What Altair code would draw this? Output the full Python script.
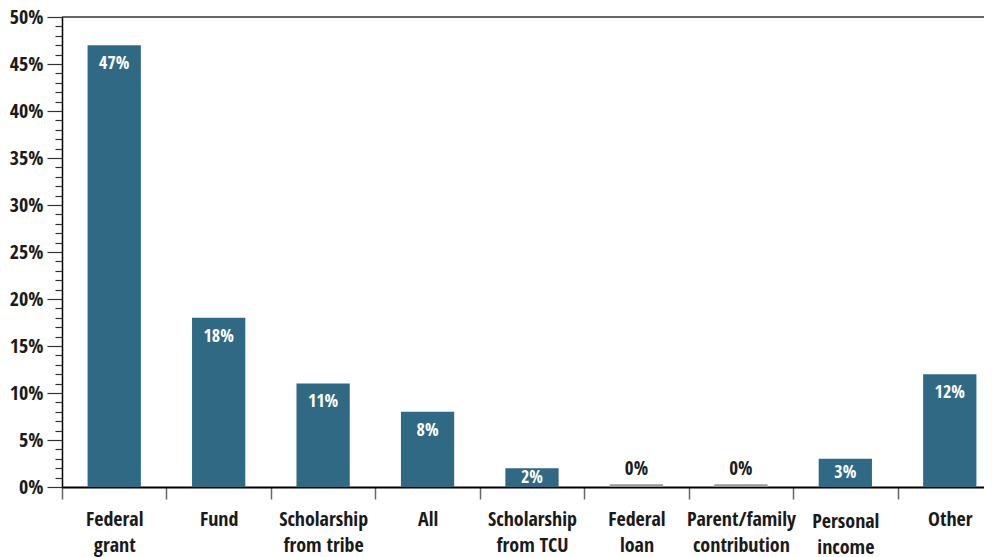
import altair as alt
import pandas as pd

categories = ["Federal grant", "Fund", "Scholarship from tribe", "All", "Scholarship from TCU",
              "Federal loan", "Parent/family contribution", "Personal income", "Other"]
label_lines = [["Federal", "grant"], ["Fund"], ["Scholarship", "from tribe"], ["All"],
               ["Scholarship", "from TCU"], ["Federal", "loan"], ["Parent/family", "contribution"],
               ["Personal", "income"], ["Other"]]
values = [47, 18, 11, 8, 2, 0, 0, 3, 12]
y_ticks = list(range(0, 51))

df = pd.DataFrame({"cat": categories, "v": values})
FONT = "Open Sans Condensed"
BAR = "#306984"
TXT = "#1a1a1a"
PLOT_W = 940

label_expr = "{" + ",".join(
    '"' + c + '": [' + ",".join('"' + s + '"' for s in l) + "]" for c, l in zip(categories, label_lines)
) + "}[datum.value]"

xenc = alt.X("cat:N", sort=categories, title=None,
             scale=alt.Scale(paddingInner=0, paddingOuter=0, range=[0, PLOT_W]),
             axis=alt.Axis(labelAngle=0, labelExpr=label_expr, labelFont=FONT, labelFontSize=20,
                           labelFontWeight="bold", labelColor=TXT, labelLineHeight=26,
                           labelPadding=alt.ExprRef("datum.value == 'Personal income' ? 12 : 10"),
                           tickBand="extent", tickSize=12, tickColor="#666666",
                           tickWidth=1.5, domainColor="#000000", domainWidth=2))
yscale = alt.Scale(domain=[0, 50], nice=False)

bars = alt.Chart(df).mark_bar(color=BAR, width=alt.RelativeBandSize(0.51)).encode(
    x=xenc,
    y=alt.Y("v:Q", scale=yscale, title=None,
            axis=alt.Axis(values=y_ticks, tickCount=len(y_ticks),
                          labelExpr="datum.value % 5 == 0 ? datum.value + '%' : ''",
                          labelOverlap=False, labelFlush=False, labelBound=False,
                          tickSize=alt.ExprRef("datum.value % 5 == 0 ? 15 : 7"),
                          labelFont=FONT, labelFontSize=20, labelFontWeight="bold",
                          labelColor=TXT, labelPadding=4, tickColor="#333333", tickWidth=1.2,
                          domainColor="#000000", domainWidth=1.5, grid=False)),
)

inside = alt.Chart(df).transform_filter("datum.v > 0").transform_calculate(
    lp="max(datum.v - 2, datum.v / 2)", txt="datum.v + '%'"
).mark_text(color="white", font=FONT, fontSize=18, fontWeight="bold", baseline="middle").encode(
    x=alt.X("cat:N", sort=categories), y=alt.Y("lp:Q", scale=yscale), text="txt:N")

zero_bar = alt.Chart(df).transform_filter("datum.v == 0").mark_bar(
    color="#999999", width=alt.RelativeBandSize(0.51)).encode(
    x=alt.X("cat:N", sort=categories), y=alt.Y("v:Q", scale=yscale), y2=alt.datum(0.3))

above = alt.Chart(df).transform_filter("datum.v == 0").transform_calculate(
    txt="datum.v + '%'"
).mark_text(color=TXT, font=FONT, fontSize=19, fontWeight="bold", baseline="bottom", dy=-8).encode(
    x=alt.X("cat:N", sort=categories), y=alt.Y("v:Q", scale=yscale), text="txt:N")

top = alt.Chart(pd.DataFrame({"t": [50]})).mark_rule(color="#333333", strokeWidth=1.5).encode(
    y=alt.Y("t:Q", scale=yscale), x=alt.value(0), x2=alt.value(PLOT_W))

chart = alt.layer(bars, zero_bar, inside, above, top).properties(
    width=922, height=470,
    autosize=alt.AutoSizeParams(type="none"),
    padding={"left": 54, "top": 9, "right": 0, "bottom": 70},
).configure_view(stroke=None)

chart.save("out.html", embed_options={"renderer": "svg", "actions": False})
